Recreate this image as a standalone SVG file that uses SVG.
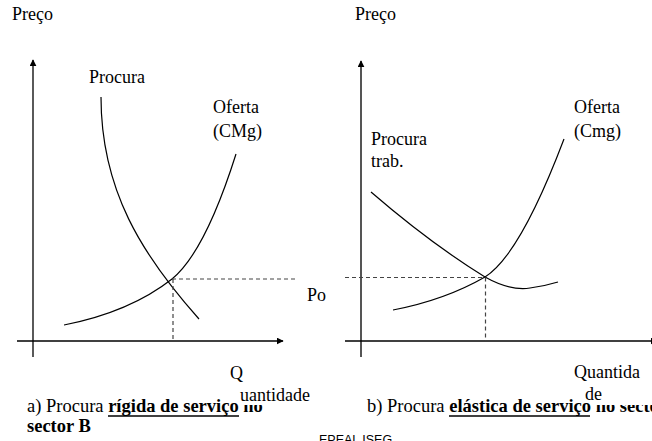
<svg xmlns="http://www.w3.org/2000/svg" width="652" height="441" viewBox="0 0 652 441">
<style>
text{font-family:"Liberation Serif","Times New Roman",serif;font-size:18px;fill:#000}
.cap{font-size:18.5px}
.b{font-weight:bold}
.sans{font-family:"Liberation Sans",Arial,sans-serif;font-size:12.5px}
.ax{stroke:#000;stroke-width:1.3;fill:none}
.ax2{stroke:#555;stroke-width:2;fill:none}
.cv{stroke:#000;stroke-width:1.2;fill:none}
.dash{stroke:#444;stroke-width:1.2;stroke-dasharray:4 3;fill:none}
.ul{stroke:#000;stroke-width:1.6}
.mask{fill:#fff}
</style>
<defs>
<marker id="ah" viewBox="0 0 10 10" refX="9" refY="5" markerWidth="7" markerHeight="7" markerUnits="userSpaceOnUse" orient="auto"><path d="M0,0 L10,5 L0,10 Z" fill="#000"/></marker>
</defs>
<rect width="652" height="441" fill="#fff"/>
<g id="connectors">
<line class="ax" x1="33" y1="357" x2="33" y2="60" marker-end="url(#ah)"/>
<line class="ax" x1="17" y1="341" x2="283" y2="341" marker-end="url(#ah)"/>
<line class="ax2" x1="361" y1="357" x2="361" y2="61" marker-end="url(#ah)"/>
<line class="ax" x1="345" y1="341" x2="657" y2="341" marker-end="url(#ah)"/>
<path class="cv" d="M101,97 C101,190 142,255 199,319"/>
<path class="cv" d="M64,325 Q130,312 172,279 Q205,252 236,154"/>
<path class="dash" d="M172,279 H297 M173,279 V341"/>
<path class="cv" d="M371,192 Q430,243 485,277 Q510,291 530,288 Q545,286 558,282"/>
<path class="cv" d="M393,310 Q445,300 485,277 Q520,255 564,139"/>
<path class="dash" d="M345,277.5 H485 M485.5,277.5 V341"/>
</g>
<g id="labels-left">
<text x="12" y="20">Preço</text>
<text x="89" y="83">Procura</text>
<text x="213" y="113">Oferta</text>
<text x="213" y="137">(CMg)</text>
<text x="307" y="301">Po</text>
</g>
<g id="labels-right">
<text x="355" y="20">Preço</text>
<text x="371" y="145">Procura</text>
<text x="371" y="167">trab.</text>
<text x="574" y="113">Oferta</text>
<text x="574" y="137">(Cmg)</text>
</g>
<g id="caption-a">
<text class="cap" x="27" y="412">a) Procura <tspan class="b">rígida de serviço</tspan><tspan class="b"> no</tspan></text>
<line class="ul" x1="108" y1="416" x2="239" y2="416"/>
<text class="cap b" x="27" y="432">sector B</text>
<rect class="mask" x="240" y="385" width="70" height="20"/>
<text x="230" y="379">Q</text>
<text x="240" y="401">uantidade</text>
</g>
<g id="caption-b">
<text class="cap" x="367" y="412">b) Procura <tspan class="b">elástica de serviço</tspan><tspan class="b"> no sector B</tspan></text>
<line class="ul" x1="449" y1="416" x2="590" y2="416"/>
<rect class="mask" x="591" y="385" width="61" height="20"/>
<text x="574" y="378">Quantida</text>
<text x="585" y="400">de</text>
</g>
<g id="footer">
<text class="sans" x="319" y="444">EPEAL ISEG</text>
</g>
</svg>
